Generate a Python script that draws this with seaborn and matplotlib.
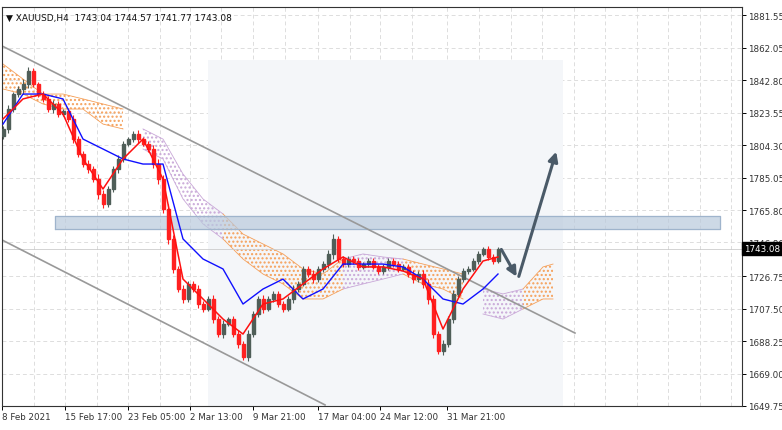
import numpy as np
import pandas as pd
import matplotlib
matplotlib.use("Agg")
import matplotlib.pyplot as plt
import seaborn as sns

closes = [1814.0,1825.8,1834.7,1837.7,1840.6,1848.4,1840.6,1834.7,1831.8,1825.8,
          1828.8,1822.9,1824.6,1819.9,1808.0,1799.2,1793.2,1790.3,1784.3,1775.4,
          1769.5,1778.4,1790.3,1796.2,1805.1,1808.0,1811.0,1808.0,1805.1,1802.1,
          1793.2,1784.3,1766.5,1748.8,1731.0,1719.1,1713.2,1722.1,1719.1,1710.2,
          1707.3,1713.2,1701.3,1692.4,1698.4,1701.3,1692.4,1686.5,1678.8,1692.4,
          1704.3,1713.2,1707.3,1713.2,1716.2,1710.2,1707.3,1713.2,1719.1,1722.1,
          1731.0,1728.0,1725.0,1731.0,1733.9,1739.9,1748.8,1736.9,1733.9,1736.9,
          1735.7,1732.2,1733.9,1735.7,1732.2,1729.8,1732.2,1735.7,1733.9,1731.0,
          1732.2,1728.0,1725.0,1728.0,1722.1,1713.2,1692.4,1682.4,1686.5,1701.3,
          1716.2,1725.0,1729.8,1731.0,1735.7,1739.9,1742.8,1738.1,1735.7,1743.1]
first_open = 1810.0
wicks = [4,5,3,4,6,5,4,3,4,3,5,4,3,4,5,4,3,5,4,6,5,4,3,5,4,3,4,5,3,4,
         5,6,5,6,5,4,5,4,3,5,4,3,5,4,5,3,4,5,4,5,3,4,5,3,4,3,4,3,5,4,
         3,4,5,3,4,5,6,4,3,4,3,4,3,4,3,4,3,4,3,4,3,4,5,4,5,6,5,4,5,4,
         5,4,3,4,3,4,3,4,3,2]

line_idx = list(range(0, 100, 4)) + [99]
tenkan = [1819.9,1831.8,1834.7,1822.9,1796.2,1778.4,1796.2,1808.0,1784.3,1725.0,1713.2,1701.3,1692.4,
          1710.2,1713.2,1722.1,1731.0,1738.1,1732.2,1732.2,1729.8,1725.0,1695.4,1719.1,1735.7,1738.1]
kijun = [1816.9,1834.7,1834.7,1831.8,1808.0,1802.1,1796.2,1793.2,1793.2,1748.8,1736.9,1731.0,1710.2,
         1719.1,1725.0,1713.2,1719.1,1733.9,1733.9,1733.9,1732.2,1725.0,1713.2,1710.2,1719.1,1728.0]

cloud_idx = list(range(0, 109, 4)) + [110]
cloud_up = [1852.5,1843.6,1834.7,1834.7,1831.8,1828.8,1825.8,1814.0,1808.0,1787.3,1772.5,1763.6,1751.7,
            1745.8,1739.9,1731.0,1728.0,1736.9,1739.9,1738.1,1736.9,1733.9,1731.0,1728.0,1719.1,1716.2,
            1719.1,1732.2,1733.9]
cloud_lo = [1837.7,1834.7,1828.8,1825.8,1825.8,1816.9,1814.0,1802.1,1796.2,1772.5,1757.7,1748.8,1736.9,
            1728.0,1722.1,1713.2,1713.2,1719.1,1722.1,1725.0,1728.0,1722.1,1719.1,1713.2,1704.3,1701.3,
            1707.3,1713.2,1713.2]
cloud_segments = [(0, 26, "orange"), (26, 44, "violet"), (44, 68, "orange"), (68, 80, "violet"),
                  (80, 94, "orange"), (94, 104, "violet"), (104, 110, "orange")]

ytick_vals = [1881.55,1862.05,1842.80,1823.55,1804.30,1785.05,1765.80,1746.80,1726.75,1707.50,1688.25,1669.00,1649.75]
xtick_pos = [-0.2,12.4,25,37.4,50,63,75.4,88.8]
xtick_labels = ["8 Feb 2021","15 Feb 17:00","23 Feb 05:00","2 Mar 13:00","9 Mar 21:00",
                "17 Mar 04:00","24 Mar 12:00","31 Mar 21:00"]
upper_trend = ([-0.6, 114.4], [1863.8, 1693.0])
lower_trend = ([-0.6, 64.4], [1748.8, 1650.4])
zone = (10.4, 143.4, 1754.7, 1762.4)
arrow_pts = [(99.4, 1744.0), (103.0, 1725.0), (110.8, 1802.1)]
last_price = 1743.08

fig = plt.figure(figsize=(7.82, 4.31), dpi=100)
ax = fig.add_axes([2/782, 24/431, 740/782, 399/431])
ax.set_xlim(-0.2, 147.8)
ax.set_ylim(1649.75, 1886.3)

for t in ytick_vals:
    ax.axhline(t, color="#dddddd", ls=(0, (4, 3)), lw=0.7, zorder=0)
for xp in xtick_pos + [x + 6.3 for x in xtick_pos] + [101.5, 107.8, 114.1, 120.4, 126.7, 133, 139.3, 145.6]:
    ax.axvline(xp, color="#dddddd", ls=(0, (4, 3)), lw=0.7, zorder=0)

# faint watermark
ax.fill_between([41, 112], 1650, 1855, color="#f4f6f9", zorder=0.5, lw=0)

ci = np.array(cloud_idx, float)
cu = np.array(cloud_up); cl = np.array(cloud_lo)
for a, b, c in cloud_segments:
    m = (ci >= a) & (ci <= b)
    col = "#f5a05a" if c == "orange" else "#c9a8d8"
    ax.fill_between(ci[m], cl[m], cu[m], facecolor="none", edgecolor=col, hatch="....", lw=0, zorder=1)
    ax.plot(ci[m], cu[m], color=col, lw=0.6, zorder=1)
    ax.plot(ci[m], cl[m], color=col, lw=0.6, zorder=1)

ax.fill_between([zone[0], zone[1]], zone[2], zone[3], color="#b9c9dc", alpha=0.7, zorder=2)
ax.plot([zone[0], zone[1], zone[1], zone[0], zone[0]], [zone[2], zone[2], zone[3], zone[3], zone[2]],
        color="#9fb4cc", lw=0.8, zorder=2)

ax.plot(*upper_trend, color="#999999", lw=1.2, zorder=2)
ax.plot(*lower_trend, color="#999999", lw=1.2, zorder=2)

opens = [first_open] + closes[:-1]
for i, (o, c, w) in enumerate(zip(opens, closes, wicks)):
    col = "#4f5e58" if c >= o else "#ff2020"
    ax.vlines(i, min(o, c) - w / 2, max(o, c) + w / 2, color=col, lw=0.8, zorder=3)
    ax.add_patch(plt.Rectangle((i - 0.3, min(o, c)), 0.6, max(abs(c - o), 0.3), color=col, zorder=3))

df = pd.DataFrame({"bar": line_idx, "tenkan": tenkan, "kijun": kijun})
sns.lineplot(data=df, x="bar", y="kijun", color="#1010ff", lw=1.0, ax=ax, zorder=4)
sns.lineplot(data=df, x="bar", y="tenkan", color="#ff1010", lw=1.1, ax=ax, zorder=4)

ax.annotate("", xy=arrow_pts[1], xytext=arrow_pts[0],
            arrowprops=dict(arrowstyle="-|>", color="#4a5a68", lw=2.2, mutation_scale=14), zorder=5)
ax.annotate("", xy=arrow_pts[2], xytext=arrow_pts[1],
            arrowprops=dict(arrowstyle="-|>", color="#4a5a68", lw=2.2, mutation_scale=14), zorder=5)

ax.axhline(last_price, color="#cccccc", lw=0.6, zorder=1)

ax.yaxis.tick_right()
ax.set_yticks(ytick_vals)
ax.set_yticklabels([f"{v:.2f}" for v in ytick_vals], fontsize=6.3, color="#333333")
ax.set_xticks(xtick_pos)
ax.set_xticklabels(xtick_labels, fontsize=6.3, color="#333333", ha="left")
ax.tick_params(length=3, width=0.7, pad=1.5)
ax.set_xlabel(""); ax.set_ylabel("")
for s in ax.spines.values():
    s.set_color("#333333"); s.set_linewidth(0.8)

ax.text(1.003, last_price, f"{last_price:.2f}", transform=ax.get_yaxis_transform(), fontsize=6.3,
        color="white", va="center", ha="left",
        bbox=dict(boxstyle="square,pad=0.25", fc="black", ec="black"), zorder=10, clip_on=False)
ax.text(0.005, 0.985, "▼ XAUUSD,H4  1743.04 1744.57 1741.77 1743.08", transform=ax.transAxes,
        fontsize=6.5, va="top", ha="left", color="#111111", zorder=10)

fig.savefig("out.png", dpi=100)
